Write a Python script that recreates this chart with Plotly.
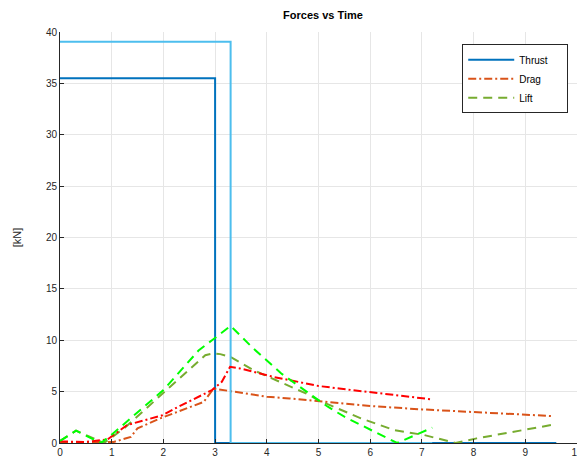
import plotly.graph_objects as go

# ---- data ----
thrust_a_t = [0, 3.0, 3.0, 9.6]
thrust_a_y = [35.5, 35.5, 0, 0]
thrust_b_t = [0, 3.3, 3.3, 7.2]
thrust_b_y = [39.05, 39.05, 0, 0]

drag_a_t = [0, 0.5, 1.04, 1.37, 1.5, 1.94, 2.78, 2.97, 3.16, 3.3, 4.0, 4.44, 5.0, 6.0, 7.0, 8.0, 9.0, 9.53]
drag_a_y = [0.05, 0.05, 0.1, 0.6, 1.43, 2.4, 4.0, 5.3, 5.15, 5.08, 4.5, 4.34, 4.08, 3.6, 3.27, 3.01, 2.78, 2.62]

drag_b_t = [0, 0.5, 0.92, 1.3, 1.98, 2.2, 2.94, 3.13, 3.29, 3.48, 4.12, 5.0, 5.4, 6.0, 7.0, 7.2]
drag_b_y = [0.15, 0.1, 0.35, 1.75, 2.7, 3.3, 5.15, 5.96, 7.42, 7.26, 6.44, 5.55, 5.3, 4.95, 4.34, 4.24]

lift_a_t = [0, 0.31, 0.85, 1.24, 2.81, 2.95, 3.1, 3.29, 3.74, 4.41, 4.83, 4.99, 5.82, 6.46, 7.04, 7.65, 8.06, 8.96, 9.58]
lift_a_y = [0.2, 1.2, 0.0, 1.43, 8.55, 8.7, 8.65, 8.39, 7.09, 5.64, 4.66, 4.18, 2.4, 1.26, 0.78, 0.0, 0.45, 1.26, 1.82]

lift_b_t = [0, 0.31, 0.79, 0.95, 2.0, 2.68, 2.94, 3.3, 3.74, 4.28, 4.95, 5.18, 5.5, 6.08, 6.52, 7.2]
lift_b_y = [0.2, 1.2, 0.0, 0.6, 5.15, 9.0, 10.0, 11.4, 9.2, 6.77, 4.34, 3.53, 2.56, 1.1, 0.0, 1.49]

legend_names = ["Thrust", "Drag", "Lift"]

# ---- figure ----
fig = go.Figure()
pad = "\u00a0" * 5
fig.add_trace(go.Scatter(x=thrust_a_t, y=thrust_a_y, mode="lines", name=legend_names[0] + pad,
                         line=dict(color="#0072BD", width=2)))
fig.add_trace(go.Scatter(x=drag_a_t, y=drag_a_y, mode="lines", name=legend_names[1],
                         line=dict(color="#D95319", width=2, dash="8px,3px,2px,3px")))
fig.add_trace(go.Scatter(x=lift_a_t, y=lift_a_y, mode="lines", name=legend_names[2],
                         line=dict(color="#77AC30", width=2, dash="9px,6px")))
fig.add_trace(go.Scatter(x=thrust_b_t, y=thrust_b_y, mode="lines", showlegend=False,
                         line=dict(color="#4DBEEE", width=2)))
fig.add_trace(go.Scatter(x=drag_b_t, y=drag_b_y, mode="lines", showlegend=False,
                         line=dict(color="#FF0000", width=2, dash="8px,3px,2px,3px")))
fig.add_trace(go.Scatter(x=lift_b_t, y=lift_b_y, mode="lines", showlegend=False,
                         line=dict(color="#00FF00", width=2, dash="9px,6px")))

FONT = "Liberation Sans, Arial, sans-serif"
axis_font = dict(family=FONT, size=10, color="#262626")
# page body has an 8px margin, so the figure is sized/offset to compensate
fig.update_layout(
    width=577, height=458,
    margin=dict(l=52, r=8, t=24, b=23, autoexpand=False),
    plot_bgcolor="white", paper_bgcolor="white",
    font=axis_font,
    title=dict(text="<b>Forces vs Time</b>", x=0.546, xanchor="center", y=0.985, yanchor="middle",
               font=dict(family=FONT, size=11, color="black")),
    legend=dict(x=0.778, y=0.97, xanchor="left", yanchor="top",
                bgcolor="white", bordercolor="#262626", borderwidth=1,
                font=dict(family=FONT, size=10, color="black"),
                tracegroupgap=0, itemwidth=46),
    showlegend=True,
)
fig.update_xaxes(range=[0, 10], tickmode="linear", tick0=0, dtick=1,
                 showline=True, linecolor="#262626", linewidth=1,
                 ticks="inside", ticklen=4, tickcolor="#262626", showgrid=True, gridcolor="#e6e6e6",
                 zeroline=False, mirror=False, fixedrange=True, automargin=False,
                 ticklabeloverflow="allow")
fig.update_yaxes(range=[0, 40], tickmode="linear", tick0=0, dtick=5,
                 showline=True, linecolor="#262626", linewidth=1,
                 ticks="inside", ticklen=4, tickcolor="#262626", showgrid=True, gridcolor="#e6e6e6",
                 zeroline=False, mirror=False, fixedrange=True, automargin=False,
                 title=dict(text="[kN]", standoff=22,
                            font=dict(family=FONT, size=11, color="#262626")))

fig.write_html("out.html")
